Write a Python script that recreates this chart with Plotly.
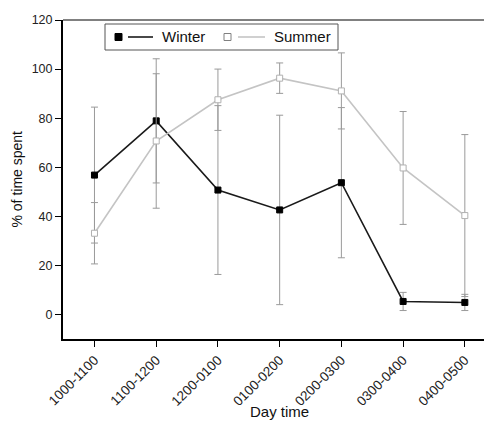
import plotly.graph_objects as go

categories = ["1000-1100", "1100-1200", "1200-0100", "0100-0200", "0200-0300", "0300-0400", "0400-0500"]
winter = [56.8, 78.9, 50.7, 42.6, 53.7, 5.3, 4.9]
winter_err = [27.7, 25.3, 34.4, 38.6, 30.6, 3.7, 3.3]
summer = [33.1, 70.7, 87.5, 96.3, 91.1, 59.7, 40.3]
summer_err = [12.5, 27.4, 12.5, 6.2, 15.5, 23.0, 33.0]
y_ticks = [0, 20, 40, 60, 80, 100, 120]
series_names = ["Winter", "Summer"]

x_idx = list(range(len(categories)))
font = "Liberation Sans, Arial, sans-serif"

# page has an 8px body margin; figure is sized so the plot lands at page pixels
OFF = 8
W, H = 492 - OFF, 423 - OFF
# plot area in page pixels: x 63..492, y 20..339
L, R, T, B = 63, 492, 20, 339
def px(x):
    return (x - L) / (R - L)
def py(y):
    return (B - y) / (B - T)

fig = go.Figure()
fig.add_trace(go.Scatter(
    x=x_idx, y=winter, name=series_names[0], mode="lines+markers",
    line=dict(color="#1a1a1a", width=1.6),
    marker=dict(symbol="square", size=6, color="#000000", line=dict(color="#000000", width=1)),
    error_y=dict(type="data", array=winter_err, color="#9a9a9a", thickness=1, width=3.5),
))
fig.add_trace(go.Scatter(
    x=x_idx, y=summer, name=series_names[1], mode="lines+markers",
    line=dict(color="#c4c4c4", width=1.6),
    marker=dict(symbol="square", size=6, color="#ffffff", line=dict(color="#b0b0b0", width=1)),
    error_y=dict(type="data", array=summer_err, color="#9a9a9a", thickness=1, width=3.5),
))

shapes = [
    dict(type="line", xref="paper", yref="paper", x0=0, x1=1, y0=1, y1=1,
         line=dict(color="#808080", width=2)),
    dict(type="rect", xref="paper", yref="paper", x0=px(105), x1=px(338), y0=py(50), y1=py(24),
         line=dict(color="#555555", width=1), fillcolor="white"),
    dict(type="rect", xref="paper", yref="paper", x0=px(115), x1=px(122), y0=py(40.5), y1=py(33.5),
         line=dict(color="#000000", width=1), fillcolor="#000000"),
    dict(type="line", xref="paper", yref="paper", x0=px(128), x1=px(153), y0=py(37), y1=py(37),
         line=dict(color="#1a1a1a", width=1.6)),
    dict(type="rect", xref="paper", yref="paper", x0=px(224), x1=px(231), y0=py(40.5), y1=py(33.5),
         line=dict(color="#808080", width=1), fillcolor="white"),
    dict(type="line", xref="paper", yref="paper", x0=px(238), x1=px(265), y0=py(37), y1=py(37),
         line=dict(color="#c4c4c4", width=1.6)),
]

annotations = [
    dict(text=series_names[0], xref="paper", yref="paper", x=px(160), y=py(37),
         xanchor="left", yanchor="middle", showarrow=False,
         font=dict(size=15, family=font, color="#111111")),
    dict(text=series_names[1], xref="paper", yref="paper", x=px(272), y=py(37),
         xanchor="left", yanchor="middle", showarrow=False,
         font=dict(size=15, family=font, color="#111111")),
    dict(text="Day time", xref="paper", yref="paper", x=px(279), y=py(422),
         xanchor="center", yanchor="bottom", showarrow=False,
         font=dict(size=15, family=font, color="#111111")),
    dict(text="% of time spent", xref="paper", yref="paper", x=px(16), y=0.5,
         xanchor="center", yanchor="middle", textangle=-90, showarrow=False,
         font=dict(size=14, family=font, color="#111111")),
]

fig.update_layout(
    width=W, height=H,
    margin=dict(l=L - OFF, r=0, t=T - OFF, b=423 - B, autoexpand=False),
    paper_bgcolor="white", plot_bgcolor="white",
    font=dict(family=font, color="#222222"),
    showlegend=False,
    xaxis=dict(
        range=[-0.51, 6.44], tickmode="array", tickvals=x_idx, ticktext=categories,
        tickangle=-45, tickfont=dict(size=13.5, color="#222222"),
        showgrid=False, zeroline=False, automargin=False,
        showline=True, linecolor="#000000", linewidth=2,
        ticks="outside", ticklen=6, tickcolor="#000000",
    ),
    yaxis=dict(
        range=[-10, 120], tickmode="array", tickvals=y_ticks,
        tickfont=dict(size=12.5, color="#222222"),
        showgrid=False, zeroline=False, automargin=False,
        showline=True, linecolor="#000000", linewidth=2,
        ticks="outside", ticklen=6, tickcolor="#000000",
    ),
    shapes=shapes,
    annotations=annotations,
)

fig.write_html("out.html")
